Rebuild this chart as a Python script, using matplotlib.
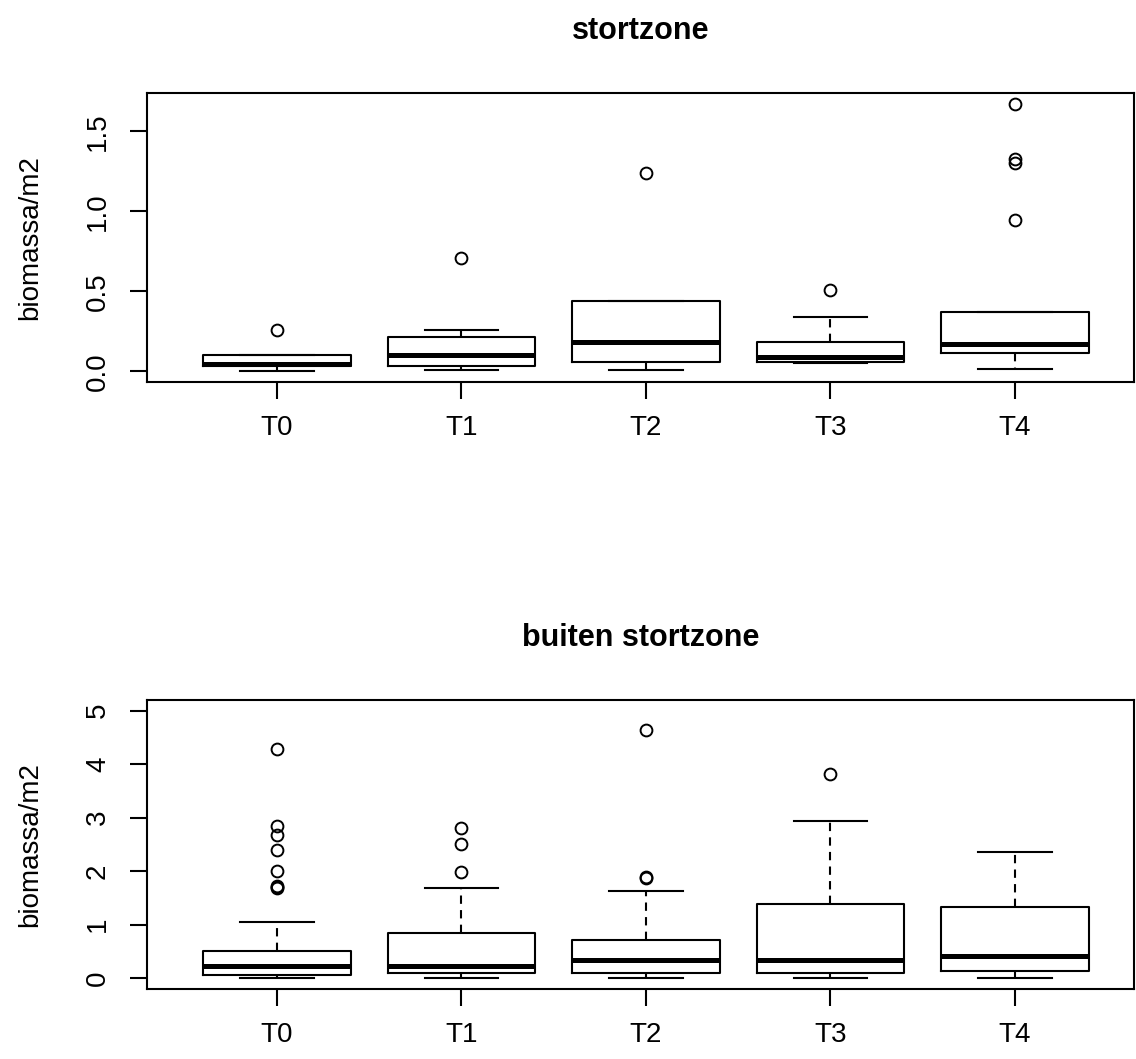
import matplotlib
matplotlib.use('Agg')
import matplotlib.pyplot as plt

plt.rcParams['font.family'] = ['Liberation Sans', 'DejaVu Sans']

groups = ['T0', 'T1', 'T2', 'T3', 'T4']

# stortzone: box summary per sampling moment
sz_whislo = [0.00, 0.011, 0.011, 0.049, 0.014]
sz_q1 = [0.030, 0.032, 0.057, 0.059, 0.114]
sz_med = [0.047, 0.101, 0.180, 0.091, 0.172]
sz_q3 = [0.101, 0.214, 0.440, 0.180, 0.370]
sz_whishi = [0.101, 0.261, 0.440, 0.340, 0.370]
sz_fliers = [[0.261], [0.709], [1.24], [0.507], [1.67, 1.328, 1.30, 0.947]]

# buiten stortzone
bz_whislo = [0.006, 0.006, 0.006, 0.006, 0.006]
bz_q1 = [0.062, 0.100, 0.100, 0.100, 0.137]
bz_med = [0.230, 0.230, 0.340, 0.330, 0.405]
bz_q3 = [0.510, 0.840, 0.710, 1.384, 1.320]
bz_whishi = [1.053, 1.690, 1.620, 2.940, 2.360]
bz_fliers = [[4.28, 2.84, 2.67, 2.40, 2.00, 1.73, 1.70, 1.68],
             [2.81, 2.50, 1.99],
             [4.63, 1.89, 1.87],
             [3.82],
             []]


def make_stats(lo, q1, med, q3, hi, fl):
    stats = []
    for i in range(len(groups)):
        stats.append({'whislo': lo[i], 'q1': q1[i], 'med': med[i],
                      'q3': q3[i], 'whishi': hi[i], 'fliers': fl[i],
                      'label': groups[i]})
    return stats


def draw_panel(ax, stats, title, ylim, yticks, yticklabels):
    ax.bxp(stats, positions=range(1, 6), widths=0.8, showfliers=True,
           boxprops=dict(color='black', linewidth=1.5),
           medianprops=dict(color='black', linewidth=3.6, solid_capstyle='butt'),
           whiskerprops=dict(color='black', linewidth=1.5, linestyle=(0, (4, 3))),
           capprops=dict(color='black', linewidth=1.5),
           flierprops=dict(marker='o', markerfacecolor='none', markeredgecolor='black',
                           markersize=8.5, markeredgewidth=1.4, linestyle='none'))
    ax.set_xlim(0.296, 5.645)
    ax.set_ylim(*ylim)
    ax.set_xticks(range(1, 6))
    ax.set_xticklabels(groups, fontsize=20)
    ax.set_yticks(yticks)
    ax.set_yticklabels(yticklabels, fontsize=20, rotation=90, va='center')
    ax.set_ylabel('biomassa/m2', fontsize=20)
    ax.yaxis.set_label_coords(-104 / 987, 0.5)
    ax.set_title(title, fontsize=22, fontweight='bold', pad=39)
    for s in ax.spines.values():
        s.set_linewidth(1.5)
        s.set_color('black')
    ax.tick_params(axis='both', length=12, width=1.5, direction='out')
    ax.tick_params(axis='x', pad=12)
    ax.tick_params(axis='y', pad=14)


fig = plt.figure(figsize=(11.36, 10.59), dpi=100)
ax1 = fig.add_axes([147 / 1136, 1 - 382 / 1059, 987 / 1136, 289 / 1059])
ax2 = fig.add_axes([147 / 1136, 1 - 988.7 / 1059, 987 / 1136, 288.7 / 1059])

draw_panel(ax1, make_stats(sz_whislo, sz_q1, sz_med, sz_q3, sz_whishi, sz_fliers),
           'stortzone', (-0.067, 1.739), [0.0, 0.5, 1.0, 1.5], ['0.0', '0.5', '1.0', '1.5'])
draw_panel(ax2, make_stats(bz_whislo, bz_q1, bz_med, bz_q3, bz_whishi, bz_fliers),
           'buiten stortzone', (-0.2, 5.2), [0, 1, 2, 3, 4, 5], ['0', '1', '2', '3', '4', '5'])

fig.savefig('out.png', dpi=100)
